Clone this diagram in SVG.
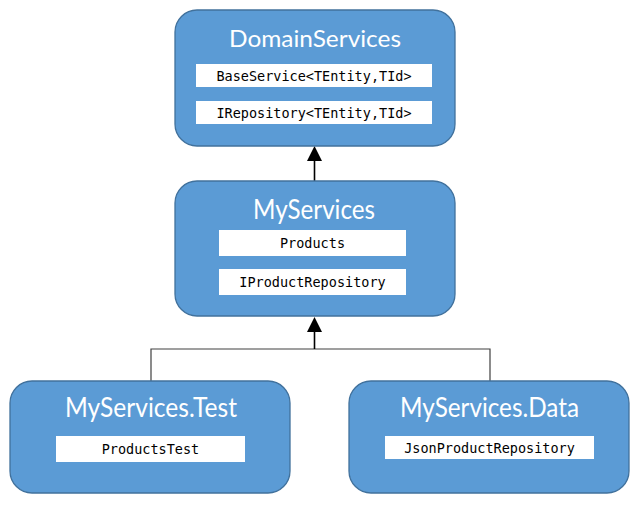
<svg xmlns="http://www.w3.org/2000/svg" width="640" height="508" viewBox="0 0 640 508">
<style>
.box{fill:#5B9BD5;stroke:#41719C;stroke-width:1.3}
.item{fill:#ffffff}
.title{font-family:Lato,"Open Sans",sans-serif;fill:#ffffff;text-anchor:middle}
.mono{font-family:"DejaVu Sans Mono","Liberation Mono",monospace;font-size:13.5px;fill:#000000;text-anchor:middle}
.wire{fill:none;stroke:#404040;stroke-width:1.2}
.shaft{fill:none;stroke:#000000;stroke-width:1.6}
.head{fill:#000000}
</style>
<rect width="640" height="508" fill="#ffffff"/>
<g id="connectors">
<line class="shaft" x1="314.5" y1="181" x2="314.5" y2="160"/>
<polygon class="head" points="314.5,146 307,161 322,161"/>
<polyline class="wire" points="151,381 151,349 490,349 490,381"/>
<line class="shaft" x1="314.5" y1="349" x2="314.5" y2="331"/>
<polygon class="head" points="314.5,317 307,332 322,332"/>
</g>
<g id="DomainServices">
<rect class="box" x="175" y="10" width="280" height="136" rx="22"/>
<text class="title" x="315" y="47" font-size="24" textLength="172" lengthAdjust="spacingAndGlyphs">DomainServices</text>
<rect class="item" x="196" y="64" width="236" height="23"/>
<text class="mono" x="314" y="80.5">BaseService&lt;TEntity,TId&gt;</text>
<rect class="item" x="196" y="101" width="236" height="23"/>
<text class="mono" x="314" y="117.5">IRepository&lt;TEntity,TId&gt;</text>
</g>
<g id="MyServices">
<rect class="box" x="175" y="181" width="280" height="135" rx="22"/>
<text class="title" x="314" y="219" font-size="26" textLength="122" lengthAdjust="spacingAndGlyphs">MyServices</text>
<rect class="item" x="219" y="230" width="187" height="26"/>
<text class="mono" x="312.5" y="248">Products</text>
<rect class="item" x="219" y="269" width="187" height="26"/>
<text class="mono" x="312.5" y="287">IProductRepository</text>
</g>
<g id="MyServicesTest">
<rect class="box" x="10" y="381" width="280" height="112" rx="22"/>
<text class="title" x="151" y="417" font-size="26" textLength="172" lengthAdjust="spacingAndGlyphs">MyServices.Test</text>
<rect class="item" x="56" y="436" width="189" height="26"/>
<text class="mono" x="150.5" y="454">ProductsTest</text>
</g>
<g id="MyServicesData">
<rect class="box" x="349" y="381" width="280" height="112" rx="22"/>
<text class="title" x="489.5" y="417" font-size="26" textLength="179" lengthAdjust="spacingAndGlyphs">MyServices.Data</text>
<rect class="item" x="385" y="436" width="209" height="23"/>
<text class="mono" x="489.5" y="453">JsonProductRepository</text>
</g>
</svg>
